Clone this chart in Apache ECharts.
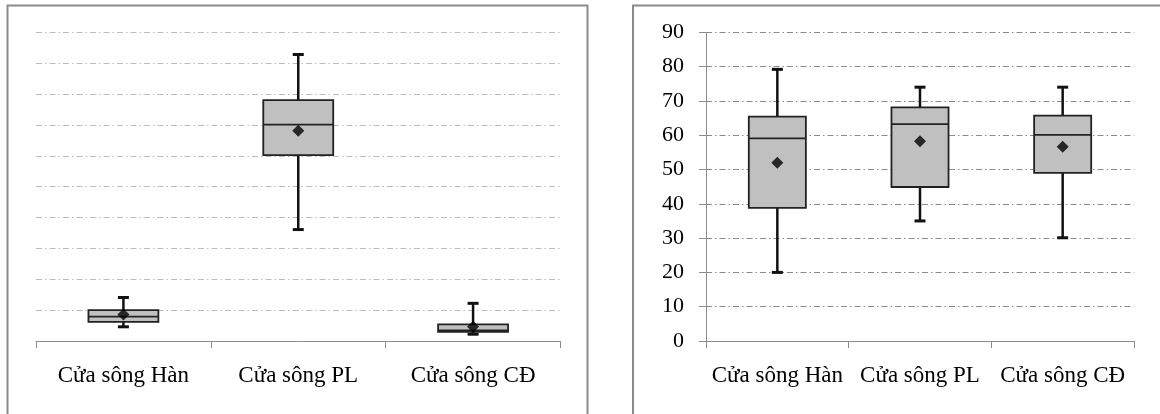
<!DOCTYPE html>
<html>
<head>
<meta charset="utf-8">
<script src="https://cdn.jsdelivr.net/npm/echarts@6/dist/echarts.min.js"></script>
<style>
html,body{margin:0;padding:0;background:#fff;}
#chart{width:1160px;height:414px;}
</style>
</head>
<body>
<div id="chart"></div>
<script>
const categories = ['Cửa sông Hàn', 'Cửa sông PL', 'Cửa sông CĐ'];
// Left panel (no tick labels shown; grid of 10 steps)
const leftMin    = [4.6, 36.1, 2.2];
const leftQ1     = [6.2, 60.2, 3.0];
const leftMedian = [7.9, 70.1, 3.4];
const leftQ3     = [10.0, 78.0, 5.4];
const leftMax    = [14.1, 92.8, 12.2];
const leftMean   = [8.6, 68.1, 4.6];
// Right panel
const rightMin    = [20.0, 35.0, 30.1];
const rightQ1     = [38.8, 44.9, 49.0];
const rightMedian = [59.1, 63.2, 60.1];
const rightQ3     = [65.4, 68.1, 65.7];
const rightMax    = [79.2, 74.0, 74.0];
const rightMean   = [52.0, 58.2, 56.6];
const yTicks = [0, 10, 20, 30, 40, 50, 60, 70, 80, 90];

function boxData(mn, q1, md, q3, mx) {
  return categories.map((c, i) => [i, mn[i], q1[i], md[i], q3[i], mx[i]]);
}
function meanData(m) { return categories.map((c, i) => [i, m[i]]); }

const FONT = '"Liberation Serif","Times New Roman",serif';

function renderBox(params, api) {
  const x = api.value(0);
  const lo = api.coord([x, api.value(1)]);
  const q1 = api.coord([x, api.value(2)]);
  const md = api.coord([x, api.value(3)]);
  const q3 = api.coord([x, api.value(4)]);
  const hi = api.coord([x, api.value(5)]);
  const bw = api.size([1, 0])[0] * 0.4;
  const cap = 11;
  const cx = lo[0];
  const wStyle = {stroke: '#111', lineWidth: 2.5};
  return {
    type: 'group',
    children: [
      {type: 'line', shape: {x1: cx, y1: hi[1], x2: cx, y2: q3[1]}, style: wStyle},
      {type: 'line', shape: {x1: cx, y1: q1[1], x2: cx, y2: lo[1]}, style: wStyle},
      {type: 'line', shape: {x1: cx - cap / 2, y1: hi[1], x2: cx + cap / 2, y2: hi[1]}, style: {stroke: '#111', lineWidth: 3}},
      {type: 'line', shape: {x1: cx - cap / 2, y1: lo[1], x2: cx + cap / 2, y2: lo[1]}, style: {stroke: '#111', lineWidth: 3}},
      {type: 'rect', shape: {x: cx - bw / 2, y: q3[1], width: bw, height: q1[1] - q3[1]}, style: {fill: '#c0c0c0', stroke: '#222', lineWidth: 1.8}},
      {type: 'line', shape: {x1: cx - bw / 2, y1: md[1], x2: cx + bw / 2, y2: md[1]}, style: {stroke: '#222', lineWidth: 1.8}}
    ]
  };
}

const chart = echarts.init(document.getElementById('chart'), null, {renderer: 'canvas'});
const catLabel = {color: '#000', fontFamily: FONT, fontSize: 23, margin: 23, interval: 0, hideOverlap: false};
const option = {
  animation: false,
  backgroundColor: '#fff',
  graphic: [
    {type: 'rect', shape: {x: 7.5, y: 5.5, width: 580, height: 430}, style: {fill: 'none', stroke: '#8a8a8a', lineWidth: 2}, z: -1},
    {type: 'rect', shape: {x: 633, y: 5.5, width: 560, height: 430}, style: {fill: 'none', stroke: '#8a8a8a', lineWidth: 2}, z: -1}
  ],
  grid: [
    {left: 36, top: 32.3, width: 524.5, height: 308.7},
    {left: 706, top: 32.3, width: 428, height: 308.7}
  ],
  xAxis: [
    {type: 'category', gridIndex: 0, data: categories, boundaryGap: true,
     axisLine: {lineStyle: {color: '#8c8c8c', width: 1}},
     axisTick: {show: true, alignWithLabel: false, interval: 0, length: 7, lineStyle: {color: '#8c8c8c'}},
     axisLabel: catLabel},
    {type: 'category', gridIndex: 1, data: categories, boundaryGap: true,
     axisLine: {lineStyle: {color: '#8c8c8c', width: 1}},
     axisTick: {show: true, alignWithLabel: false, interval: 0, length: 7, lineStyle: {color: '#8c8c8c'}},
     axisLabel: catLabel}
  ],
  yAxis: [
    {type: 'value', gridIndex: 0, min: 0, max: 100, interval: 10,
     axisLine: {show: false}, axisTick: {show: false}, axisLabel: {show: false},
     splitLine: {show: true, lineStyle: {color: '#bdbdbd', width: 1, type: [6, 3, 1.5, 3]}}},
    {type: 'value', gridIndex: 1, min: yTicks[0], max: yTicks[yTicks.length - 1], interval: 10,
     axisLine: {show: true, lineStyle: {color: '#8c8c8c', width: 1}},
     axisTick: {show: true, length: 7, lineStyle: {color: '#8c8c8c'}},
     axisLabel: {color: '#000', fontFamily: FONT, fontSize: 22, margin: 22},
     splitLine: {show: true, lineStyle: {color: '#8a8a8a', width: 1, type: [6, 3, 1.5, 3]}}}
  ],
  series: [
    {type: 'custom', xAxisIndex: 0, yAxisIndex: 0, renderItem: renderBox,
     data: boxData(leftMin, leftQ1, leftMedian, leftQ3, leftMax), z: 2},
    {type: 'scatter', xAxisIndex: 0, yAxisIndex: 0, symbol: 'diamond', symbolSize: 12,
     itemStyle: {color: '#000'}, data: meanData(leftMean), z: 3},
    {type: 'custom', xAxisIndex: 1, yAxisIndex: 1, renderItem: renderBox,
     data: boxData(rightMin, rightQ1, rightMedian, rightQ3, rightMax), z: 2},
    {type: 'scatter', xAxisIndex: 1, yAxisIndex: 1, symbol: 'diamond', symbolSize: 12,
     itemStyle: {color: '#000'}, data: meanData(rightMean), z: 3}
  ]
};
chart.setOption(option);
</script>
</body>
</html>
